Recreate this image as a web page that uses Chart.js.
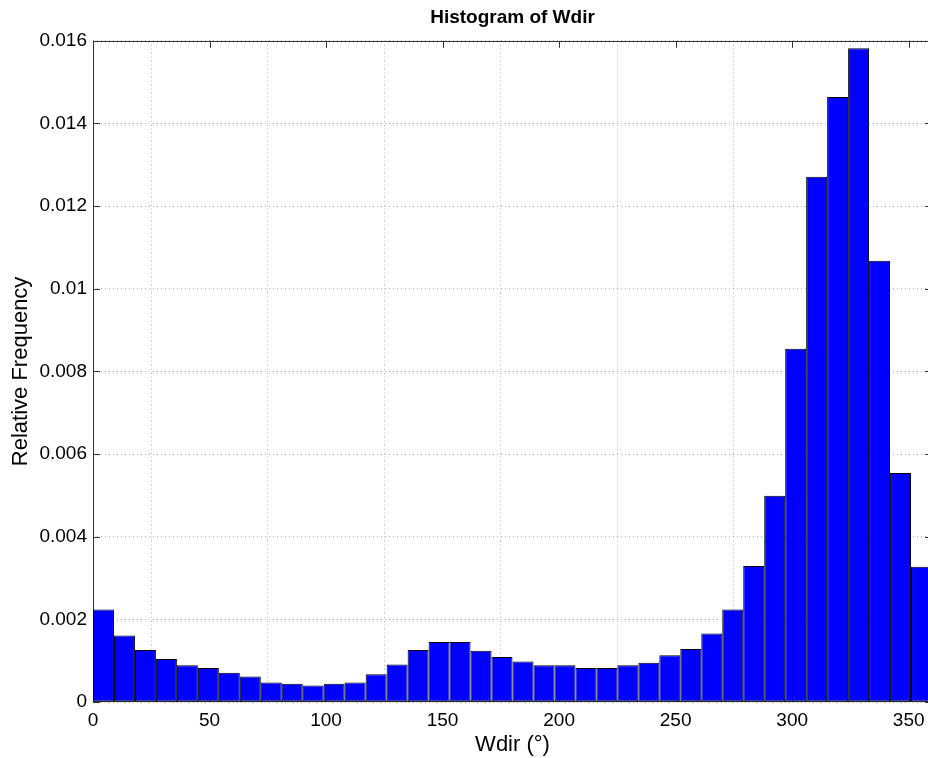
<!DOCTYPE html>
<html>
<head>
<meta charset="utf-8">
<title>Histogram of Wdir</title>
<script src="https://cdn.jsdelivr.net/npm/chart.js@4.4.0/dist/chart.umd.min.js"></script>
<style>
  html, body { margin: 0; padding: 0; background: #fff; overflow: hidden; }
  #wrap { position: relative; width: 945px; height: 758px; }
</style>
</head>
<body>
<div id="wrap"><canvas id="histChart"></canvas></div>
<script>
// 9 degree bins, 0 .. 360
const binCenters = [
  4.5, 13.5, 22.5, 31.5, 40.5, 49.5, 58.5, 67.5, 76.5, 85.5,
  94.5, 103.5, 112.5, 121.5, 130.5, 139.5, 148.5, 157.5, 166.5, 175.5,
  184.5, 193.5, 202.5, 211.5, 220.5, 229.5, 238.5, 247.5, 256.5, 265.5,
  274.5, 283.5, 292.5, 301.5, 310.5, 319.5, 328.5, 337.5, 346.5, 355.5
];
const relFreq = [
  0.00224, 0.00161, 0.00126, 0.00104, 0.00089, 0.00082, 0.00071, 0.00062, 0.00047, 0.00044,
  0.00040, 0.00044, 0.00047, 0.00067, 0.00091, 0.00126, 0.00145, 0.00145, 0.00124, 0.00109,
  0.00098, 0.00089, 0.00089, 0.00082, 0.00082, 0.00089, 0.00095, 0.00113, 0.00128, 0.00166,
  0.00224, 0.00329, 0.00499, 0.00855, 0.01271, 0.01464, 0.01582, 0.01068, 0.00554, 0.00327
];
const xTicks = [0, 50, 100, 150, 200, 250, 300, 350];
const yTicks = [0, 0.002, 0.004, 0.006, 0.008, 0.01, 0.012, 0.014, 0.016];

const FONT = "'Liberation Sans', Arial, Helvetica, sans-serif";

// matlab style box + inward tick marks
const axesBox = {
  id: 'axesBox',
  beforeDatasetsDraw(chart) {
    const { ctx, chartArea: a, scales: { x, y } } = chart;
    const len = 7;
    ctx.save();
    ctx.strokeStyle = '#333';
    ctx.lineWidth = 1;
    ctx.beginPath();
    x.ticks.forEach(t => {
      const px = Math.round(x.getPixelForValue(t.value)) + 0.5;
      ctx.moveTo(px, a.bottom); ctx.lineTo(px, a.bottom - len);
      ctx.moveTo(px, a.top); ctx.lineTo(px, a.top + len);
    });
    y.ticks.forEach(t => {
      const py = Math.round(y.getPixelForValue(t.value)) + 0.5;
      ctx.moveTo(a.left, py); ctx.lineTo(a.left + len, py);
      ctx.moveTo(a.right, py); ctx.lineTo(a.right - len, py);
    });
    ctx.stroke();
    ctx.strokeRect(Math.round(a.left) + 0.5, Math.round(a.top) + 0.5,
                   Math.round(a.width) - 1, Math.round(a.height) - 1);
    ctx.restore();
  }
};

const ctx = document.getElementById('histChart').getContext('2d');
new Chart(ctx, {
  type: 'bar',
  data: {
    datasets: [{
      label: 'Wdir',
      data: binCenters.map((c, i) => ({ x: c, y: relFreq[i] })),
      backgroundColor: '#0000ff',
      borderColor: '#000',
      borderWidth: 1,
      borderSkipped: false,
      barPercentage: 1,
      categoryPercentage: 1,
      inflateAmount: 0,
    }],
  },
  options: {
    responsive: true,
    maintainAspectRatio: false,
    animation: false,
    layout: { padding: { left: 0, right: 13, top: 0, bottom: 0 } },
    plugins: {
      legend: { display: false },
      title: {
        display: true,
        fullSize: false,
        text: 'Histogram of Wdir',
        color: '#000',
        font: { family: FONT, size: 19, weight: 'bold' },
        padding: { top: 6, bottom: 12 },
      },
      tooltip: {
        callbacks: {
          label: (c) => `Relative Frequency: ${c.raw.y}`,
        },
      },
    },
    scales: {
      x: {
        type: 'linear',
        min: 0,
        max: 360,
        offset: false,
        afterBuildTicks: (s) => { s.ticks = xTicks.map(v => ({ value: v })); },
        afterFit: (s) => { s.height = 56; },
        grid: { color: '#b0b0b0', drawTicks: false },
        border: { display: false, dash: [1, 3] },
        ticks: { color: '#000', font: { family: FONT, size: 19 }, padding: 7, maxRotation: 0 },
        title: {
          display: true,
          text: 'Wdir (°)',
          color: '#000',
          font: { family: FONT, size: 22 },
          padding: { top: 0, bottom: 0 },
        },
      },
      y: {
        min: 0,
        max: 0.016,
        afterBuildTicks: (s) => { s.ticks = yTicks.map(v => ({ value: v })); },
        afterFit: (s) => { s.width = 93; },
        grid: { color: '#b0b0b0', drawTicks: false },
        border: { display: false, dash: [1, 3] },
        ticks: {
          color: '#000',
          font: { family: FONT, size: 19 },
          padding: 6,
          callback: (v) => String(+v.toFixed(3)),
        },
        title: {
          display: true,
          text: 'Relative Frequency',
          color: '#000',
          font: { family: FONT, size: 22 },
          padding: { top: 8, bottom: 0 },
        },
      },
    },
  },
  plugins: [axesBox],
});
</script>
</body>
</html>
